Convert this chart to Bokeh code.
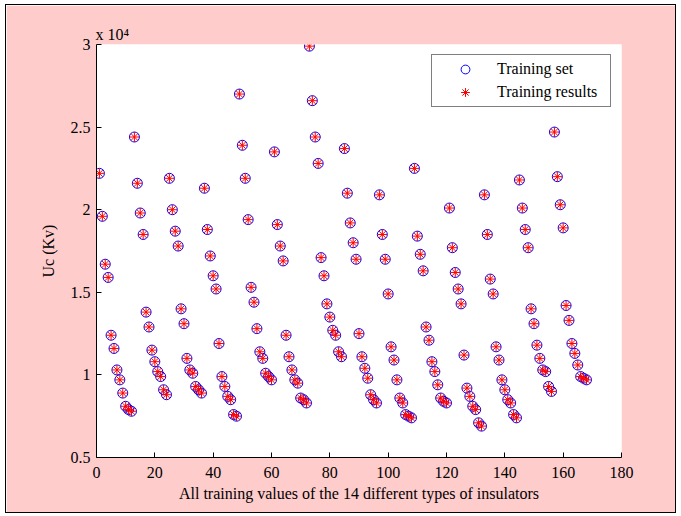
from bokeh.plotting import figure
from bokeh.models import Range1d, FixedTicker, Legend, LegendItem, CustomJSTickFormatter
from bokeh.embed import file_html
from bokeh.resources import INLINE

# Uc values (units of 1e4 kV), 12 training values for each of the 14 insulator types
g1 = [2.22, 1.96, 1.67, 1.59, 1.24, 1.16, 1.03, 0.97, 0.89, 0.81, 0.79, 0.78]
g2 = [2.44, 2.16, 1.98, 1.85, 1.38, 1.29, 1.15, 1.08, 1.02, 0.99, 0.91, 0.88]
g3 = [2.19, 2.00, 1.87, 1.78, 1.40, 1.31, 1.10, 1.03, 1.01, 0.93, 0.91, 0.89]
g4 = [2.13, 1.88, 1.72, 1.60, 1.52, 1.19, 0.99, 0.93, 0.87, 0.85, 0.76, 0.75]
g5 = [2.70, 2.39, 2.19, 1.94, 1.53, 1.44, 1.28, 1.14, 1.10, 1.01, 0.99, 0.97]
g6 = [2.35, 1.91, 1.78, 1.69, 1.24, 1.11, 1.03, 0.97, 0.95, 0.86, 0.85, 0.83]
g7 = [2.99, 2.66, 2.44, 2.28, 1.71, 1.60, 1.43, 1.35, 1.27, 1.24, 1.14, 1.11]
g8 = [2.37, 2.10, 1.92, 1.80, 1.70, 1.25, 1.11, 1.04, 0.98, 0.88, 0.85, 0.83]
g9 = [2.09, 1.85, 1.70, 1.49, 1.17, 1.09, 0.97, 0.86, 0.83, 0.76, 0.75, 0.74]
g10 = [2.25, 1.84, 1.73, 1.63, 1.29, 1.21, 1.08, 1.02, 0.94, 0.86, 0.84, 0.83]
g11 = [2.01, 1.77, 1.62, 1.52, 1.43, 1.12, 0.92, 0.87, 0.81, 0.79, 0.71, 0.69]
g12 = [2.09, 1.85, 1.58, 1.49, 1.17, 1.09, 0.97, 0.91, 0.85, 0.83, 0.76, 0.74]
g13 = [2.18, 2.01, 1.88, 1.77, 1.40, 1.31, 1.18, 1.10, 1.03, 1.02, 0.93, 0.90]
g14 = [2.47, 2.20, 2.03, 1.89, 1.42, 1.33, 1.19, 1.13, 1.06, 0.99, 0.98, 0.97]

x_ticks = [0, 20, 40, 60, 80, 100, 120, 140, 160, 180]
y_ticks = [0.5, 1.0, 1.5, 2.0, 2.5, 3.0]

training_set = g1 + g2 + g3 + g4 + g5 + g6 + g7 + g8 + g9 + g10 + g11 + g12 + g13 + g14
training_results = list(training_set)
idx = list(range(1, len(training_set) + 1))

FONT = "Liberation Serif"
PINK = "#FFCCCC"

p = figure(width=671, height=509, output_backend="svg", toolbar_location=None,
           x_range=Range1d(0, 180), y_range=Range1d(0.5, 3),
           min_border_left=90, min_border_right=56, min_border_top=39, min_border_bottom=57)
p.margin = (4, 0, 0, 5)
p.styles = {"border": "1px solid black"}
p.border_fill_color = PINK
p.background_fill_color = "white"
p.outline_line_color = None
p.xgrid.visible = False
p.ygrid.visible = False

# exponent note of the y axis, as MATLAB places it above the axis
p.title.text = "x 10\u2074"
p.title.align = "left"
p.title.text_font = FONT
p.title.text_font_size = "16px"
p.title.text_font_style = "normal"
p.title.text_color = "black"
p.title.standoff = 3
p.title.offset = -1

r1 = p.scatter(idx, training_set, marker="circle", size=10, fill_color=None,
               line_color="#0000FF", line_width=1)
r2 = p.scatter(idx, training_results, marker="asterisk", size=10,
               line_color="#FF0000", line_width=1)

p.xaxis.ticker = FixedTicker(ticks=x_ticks)
p.yaxis.ticker = FixedTicker(ticks=y_ticks)
p.yaxis.formatter = CustomJSTickFormatter(code="return String(tick)")
p.xaxis.axis_label = "All training values of the 14 different types of insulators"
p.yaxis.axis_label = "Uc (Kv)"
for ax in (p.xaxis[0], p.yaxis[0]):
    ax.axis_line_color = "black"
    ax.axis_line_width = 1
    ax.major_tick_in = 5
    ax.major_tick_out = 0
    ax.major_tick_line_color = "black"
    ax.minor_tick_line_color = None
    ax.major_label_text_font = FONT
    ax.major_label_text_font_size = "16px"
    ax.major_label_text_color = "black"
    ax.axis_label_text_font = FONT
    ax.axis_label_text_font_size = "16px"
    ax.axis_label_text_font_style = "normal"
    ax.axis_label_text_color = "black"
p.xaxis.major_label_standoff = 9
p.xaxis.axis_label_standoff = 4
p.yaxis.major_label_standoff = 6
p.yaxis.axis_label_standoff = 11

legend = Legend(items=[LegendItem(label="Training set", renderers=[r1]),
                       LegendItem(label="Training results", renderers=[r2])],
                location="top_right")
legend.margin = 10
legend.padding = 3
legend.spacing = 1
legend.glyph_width = 60
legend.glyph_height = 22
legend.label_height = 22
legend.label_width = 110
legend.label_standoff = 2
legend.border_line_color = "black"
legend.border_line_width = 1
legend.background_fill_color = "white"
legend.background_fill_alpha = 1
legend.label_text_font = FONT
legend.label_text_font_size = "16px"
legend.label_text_color = "black"
p.add_layout(legend)

open("out.html", "w").write(file_html(p, INLINE))
